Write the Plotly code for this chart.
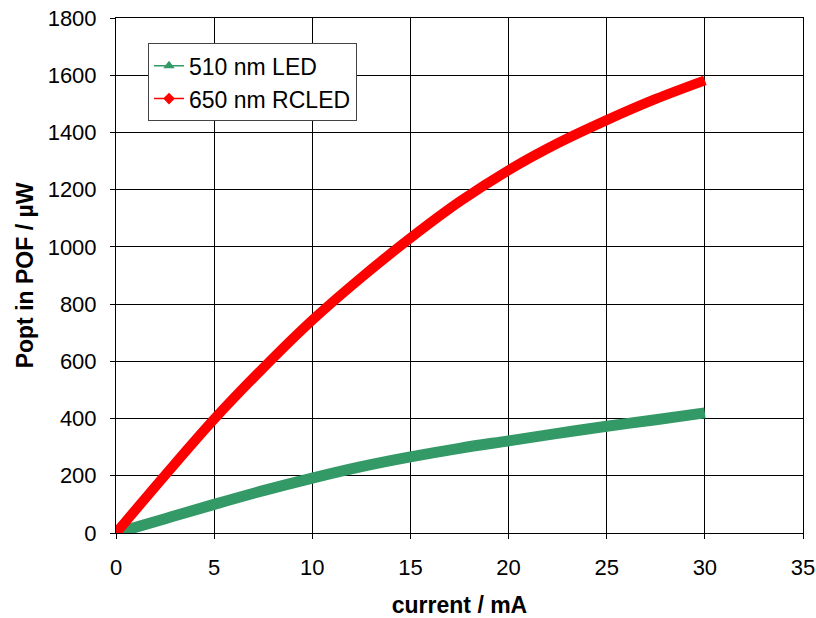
import plotly.graph_objects as go

current_mA = [0, 2.5, 5, 7.5, 10, 12.5, 15, 17.5, 20, 22.5, 25, 27.5, 30]
led_510_uW = [0, 50, 100, 148, 192, 232, 266, 296, 322, 348, 373, 396, 420]
rcled_650_uW = [0, 202, 398, 577, 744, 893, 1031, 1158, 1268, 1362, 1443, 1517, 1582]

x_ticks = [0, 5, 10, 15, 20, 25, 30, 35]
y_ticks = [0, 200, 400, 600, 800, 1000, 1200, 1400, 1600, 1800]

GREEN = "#339966"
RED = "#FF0000"
FONT = "Arial, Liberation Sans, sans-serif"

fig = go.Figure()
fig.add_trace(go.Scatter(x=current_mA, y=led_510_uW, mode="lines",
                         line=dict(color=GREEN, width=11, shape="spline"),
                         showlegend=False, hoverinfo="x+y"))
fig.add_trace(go.Scatter(x=current_mA, y=rcled_650_uW, mode="lines",
                         line=dict(color=RED, width=10, shape="spline"),
                         showlegend=False, hoverinfo="x+y"))
# legend entries
fig.add_trace(go.Scatter(x=[None], y=[None], mode="lines+markers", name="510 nm LED",
                         line=dict(color=GREEN, width=1.5),
                         marker=dict(symbol="triangle-up", size=10, color=GREEN)))
fig.add_trace(go.Scatter(x=[None], y=[None], mode="lines+markers", name="650 nm RCLED",
                         line=dict(color=RED, width=1.5),
                         marker=dict(symbol="diamond", size=9, color=RED)))

fig.update_layout(
    width=816, height=618,
    margin=dict(l=116, r=13, t=18, b=85, autoexpand=False),
    paper_bgcolor="white", plot_bgcolor="white",
    font=dict(family=FONT, size=22, color="black"),
    legend=dict(x=0.0466, y=0.951, xanchor="left", yanchor="top",
                bgcolor="white", bordercolor="#444", borderwidth=1,
                font=dict(size=23), tracegroupgap=0, itemwidth=30),
)
fig.update_xaxes(range=[0, 35], tickvals=x_ticks, ticks="outside", ticklen=5,
                 tickcolor="black", showgrid=True, gridcolor="black", gridwidth=1,
                 showline=True, linecolor="black", linewidth=1, mirror=True,
                 zeroline=False, ticklabelstandoff=10, automargin=False,
                 ticklabeloverflow="allow", tickfont=dict(size=22),
                 title=dict(text="<b>current / mA</b>", font=dict(size=23), standoff=21))
fig.update_yaxes(range=[0, 1800], tickvals=y_ticks, ticks="outside", ticklen=5,
                 tickcolor="black", showgrid=True, gridcolor="black", gridwidth=1,
                 showline=True, linecolor="black", linewidth=1, mirror=True,
                 zeroline=False, ticklabelstandoff=9, automargin=False,
                 ticklabeloverflow="allow", tickfont=dict(size=22),
                 title=dict(text="<b>Popt in POF / µW</b>", font=dict(size=23), standoff=7))

# remove the page's default 8 px body margin so the figure fills the window exactly
fig.write_html("out.html", config={"displayModeBar": False},
               post_script="document.body.style.margin='0';")
